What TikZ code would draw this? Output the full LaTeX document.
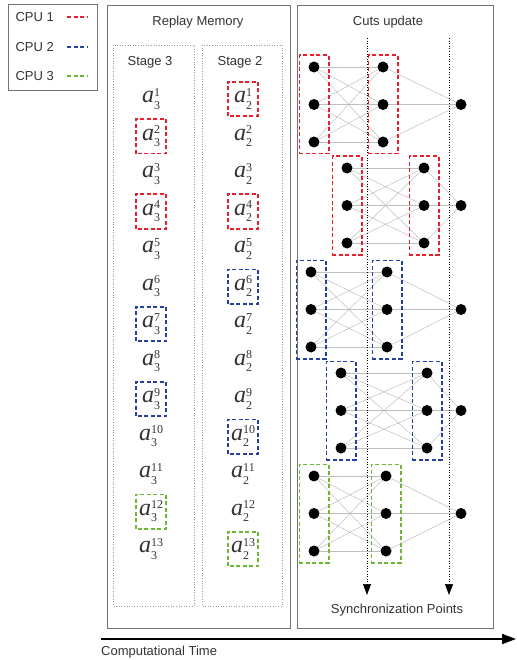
\documentclass[tikz,border=0pt]{standalone}
\usepackage{fontspec}
\setmainfont{Liberation Sans}
\newfontfamily\serifit{Liberation Serif}
\usetikzlibrary{arrows.meta, positioning, fit}
\definecolor{cpured}{RGB}{232,32,44}
\definecolor{cpublue}{RGB}{36,64,160}
\definecolor{cpugreen}{RGB}{108,184,52}
\definecolor{textgray}{RGB}{51,51,51}

% a^{sup}_{sub} set in a serif italic
\newcommand{\aent}[2]{{\serifit\fontsize{24}{24}\selectfont\itshape a}%
  \rlap{\raisebox{6.5pt}{\serifit\fontsize{12}{12}\selectfont #2}}%
  \rlap{\raisebox{-6.5pt}{\serifit\fontsize{12}{12}\selectfont #1}}%
  \hphantom{\serifit\fontsize{12}{12}\selectfont #2}}

\begin{document}
\begin{tikzpicture}[
    x=1pt, y=-1pt,
    panel/.style={draw=black!55, line width=0.8pt},
    stagebox/.style={draw=black!40, dotted, line width=0.6pt},
    title/.style={font=\fontsize{13}{15}\selectfont, text=textgray},
    entry/.style={minimum width=30pt, minimum height=34pt, inner sep=0pt, text=textgray},
    cpuone/.style={draw=cpured, dash pattern=on 4pt off 2.5pt, line width=1.6pt},
    cputwo/.style={draw=cpublue, dash pattern=on 4pt off 2.5pt, line width=1.6pt},
    cputhree/.style={draw=cpugreen, dash pattern=on 4pt off 2.5pt, line width=1.6pt},
    neuron/.style={circle, fill=black, minimum size=11pt, inner sep=0pt},
    column/.style={inner xsep=9pt, inner ysep=6pt},
    link/.style={draw=black!25, line width=0.5pt},
    sync/.style={dotted, line width=0.6pt, -{Triangle[length=11pt, width=8pt]}},
    timeaxis/.style={line width=1.8pt, -{Triangle[length=14pt, width=10pt]}},
]
\useasboundingbox (0,0) rectangle (516,660);

% legend
\draw[panel] (8,4) rectangle (97,90);
\node[title, anchor=west] (cpu1) at (12,17) {CPU 1};
\node[title, anchor=west] (cpu2) at (12,47) {CPU 2};
\node[title, anchor=west] (cpu3) at (12,76) {CPU 3};
\draw[cpuone, line width=1.2pt] (67,17) -- (88,17);
\draw[cputwo, line width=1.2pt] (67,47) -- (88,47);
\draw[cputhree, line width=1.2pt] (67,76) -- (88,76);

% replay memory
\draw[panel] (107,5) rectangle (290,628);
\node[title] (replay) at (198,22) {Replay Memory};
\draw[stagebox] (113,45) rectangle (194,606);
\draw[stagebox] (202,45) rectangle (282,606);
\node[title] (stage3) at (150,62) {Stage 3};
\node[title] (stage2) at (240,62) {Stage 2};
\foreach \k in {1,...,13}{
  \node[entry] (sa\k) at (151,{99+37.5*(\k-1)}) {\aent{3}{\k}};
  \node[entry] (sb\k) at (243,{99+37.5*(\k-1)}) {\aent{2}{\k}};
}
\foreach \n/\cpu in {sa2/cpuone, sa4/cpuone, sb1/cpuone, sb4/cpuone,
                     sa7/cputwo, sa9/cputwo, sb6/cputwo, sb10/cputwo,
                     sa12/cputhree, sb13/cputhree}
  \draw[\cpu] (\n.south west) rectangle (\n.north east);

% cuts update
\draw[panel] (297,5) rectangle (493,628);
\node[title] (cuts) at (388,22) {Cuts update};
\foreach \g/\lx/\mx/\yo/\cpu in {1/314/383/67/cpuone, 2/347/424/168/cpuone,
                                 3/311/387/272/cputwo, 4/341/427/373/cputwo,
                                 5/314/386/476/cputhree}{
  \foreach \i in {1,2,3}{
    \node[neuron] (l\g\i) at (\lx,{\yo+37.5*(\i-1)}) {};
    \node[neuron] (m\g\i) at (\mx,{\yo+37.5*(\i-1)}) {};
  }
  \node[neuron] (o\g) at (461,{\yo+37.5}) {};
  \foreach \i in {1,2,3}{
    \foreach \j in {1,2,3}
      \draw[link] (l\g\i) -- (m\g\j);
    \draw[link] (m\g\i) -- (o\g);
  }
  \node[\cpu, column, fit=(l\g1)(l\g3)] (lbox\g) {};
  \node[\cpu, column, fit=(m\g1)(m\g3)] (mbox\g) {};
}

% synchronization points
\coordinate (synca) at (367,38);
\coordinate (syncb) at (449,38);
\coordinate (syncaend) at (367,595);
\coordinate (syncbend) at (449,595);
\draw[sync] (synca) -- (syncaend);
\draw[sync] (syncb) -- (syncbend);
\node[title] (syncpts) at (397,610) {Synchronization Points};

% time axis
\coordinate (tstart) at (101,639);
\coordinate (tend) at (516,639);
\draw[timeaxis] (tstart) -- (tend);
\node[title, inner sep=0pt, below=7pt of tstart, anchor=north west] (time) {Computational Time};

\end{tikzpicture}
\end{document}
